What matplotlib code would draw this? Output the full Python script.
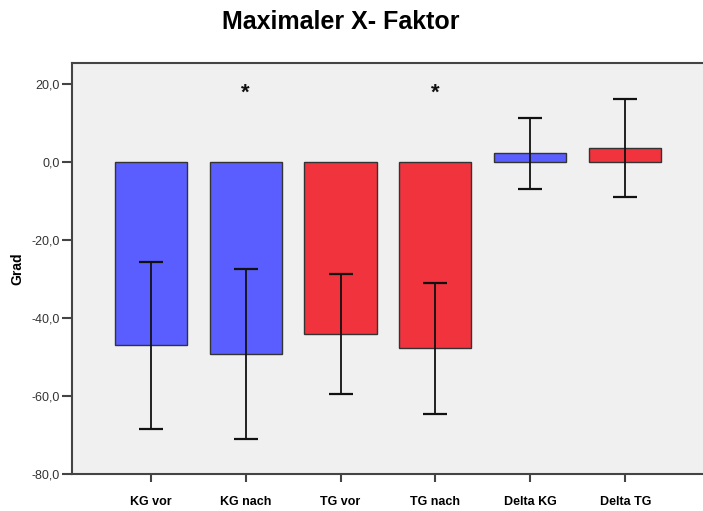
import matplotlib
matplotlib.use("Agg")
import matplotlib.pyplot as plt
from matplotlib.ticker import FuncFormatter

plt.rcParams['font.family'] = ['Liberation Sans', 'DejaVu Sans']

# mean values and error bar ends (degrees)
categories = ['KG vor', 'KG nach', 'TG vor', 'TG nach', 'Delta KG', 'Delta TG']
means = [-46.9, -49.2, -44.2, -47.7, 2.3, 3.6]
err_upper = [-25.5, -27.4, -28.7, -30.9, 11.4, 16.2]
err_lower = [-68.5, -71.0, -59.5, -64.5, -6.8, -9.0]
bar_colors = ['#5a5eff', '#5a5eff', '#f0333c', '#f0333c', '#5a5eff', '#f0333c']
significant = [False, True, False, True, False, False]
star_y = 17.7

fig = plt.figure(figsize=(7.03, 5.11), dpi=100)
ax = fig.add_axes([0.1024, 0.0724, 0.8976, 0.804])
ax.set_facecolor('#f0f0f0')

x = list(range(len(categories)))
ax.bar(x, means, width=0.76, color=bar_colors, edgecolor='#333333',
       linewidth=1.0, zorder=2)

lo = [m - l for m, l in zip(means, err_lower)]
hi = [u - m for m, u in zip(means, err_upper)]
ax.errorbar(x, means, yerr=[lo, hi], fmt='none', ecolor='#111111',
            elinewidth=1.3, capsize=8.6, capthick=1.6, zorder=3)

for xi, sig in zip(x, significant):
    if sig:
        ax.text(xi, star_y, '*', ha='center', va='center',
                fontsize=16, fontweight='bold', color='#111111')

ax.set_xlim(-0.83, 5.82)
ax.set_ylim(-80, 25.4)
ax.set_yticks([20, 0, -20, -40, -60, -80])
ax.yaxis.set_major_formatter(FuncFormatter(lambda v, p: f"{v:.1f}".replace('.', ',')))
ax.set_xticks(x)
ax.set_xticklabels(categories, fontweight='bold', fontsize=9)

for side in ['left', 'bottom', 'top']:
    ax.spines[side].set_color('#444444')
    ax.spines[side].set_linewidth(1.5)
ax.spines['right'].set_visible(False)

ax.tick_params(axis='y', direction='out', length=7, width=1.5,
               color='#444444', labelsize=9, labelcolor='#333333', pad=2)
ax.tick_params(axis='x', direction='out', length=6, width=1.5,
               color='#444444', pad=10)

ax.set_ylabel('Grad', fontweight='bold', fontsize=10, labelpad=5)

fig.text(341 / 703, 1 - 22 / 511, 'Maximaler X- Faktor', ha='center',
         va='center', fontsize=18, fontweight='bold')

fig.savefig('out.png', dpi=100)
